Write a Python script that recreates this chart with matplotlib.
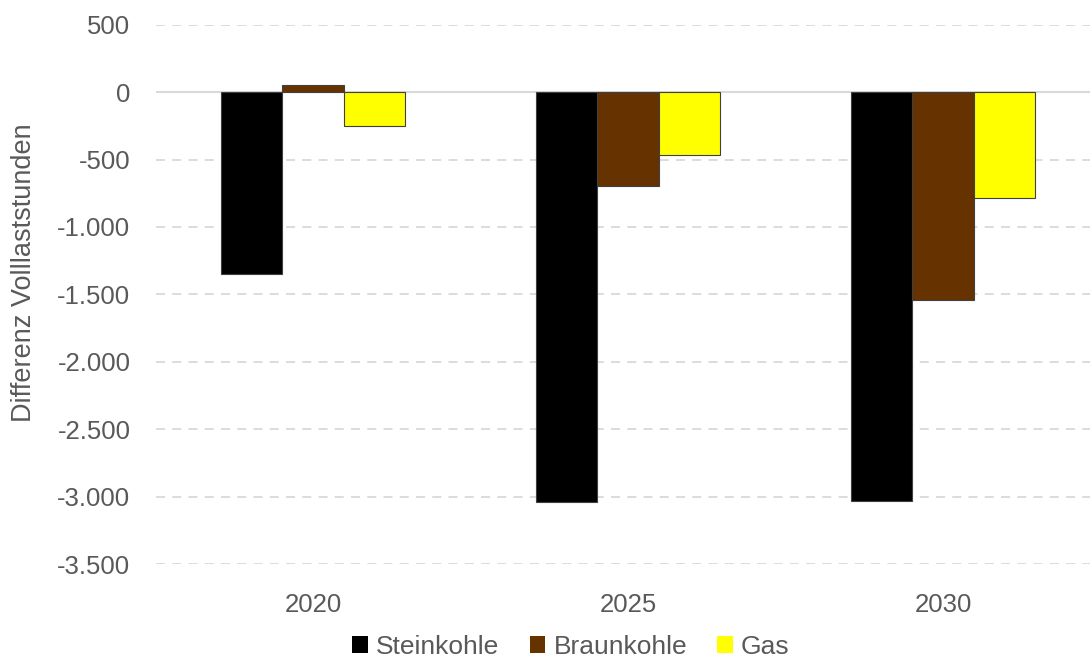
import matplotlib.pyplot as plt
import numpy as np
from matplotlib.ticker import FuncFormatter, MultipleLocator

plt.rcParams['font.family'] = ['Liberation Sans', 'DejaVu Sans']

jahre = ['2020', '2025', '2030']
steinkohle = [-1350, -3040, -3030]
braunkohle = [55, -700, -1540]
gas = [-250, -470, -785]

serien = [('Steinkohle', steinkohle, '#000000'),
          ('Braunkohle', braunkohle, '#663300'),
          ('Gas', gas, '#ffff00')]

grau = '#595959'

fig = plt.figure(figsize=(10.9, 6.59), dpi=100)
ax = fig.add_axes([155.5 / 1090, 1 - 564 / 659, 945 / 1090, (564 - 24.7) / 659])

x = np.arange(len(jahre))
breite = 0.194
for i, (name, werte, farbe) in enumerate(serien):
    ax.bar(x + (i - 1) * breite, werte, breite, color=farbe, label=name,
           edgecolor='#404040', linewidth=0.8, zorder=3)

ax.set_xlim(-0.5, 2.5)
ax.set_ylim(-3500, 500)
ax.yaxis.set_major_locator(MultipleLocator(500))
ax.yaxis.set_major_formatter(FuncFormatter(lambda v, p: f'{int(v):,}'.replace(',', '.')))
ax.grid(axis='y', color='#d9d9d9', linestyle=(0, (5, 4)), linewidth=1.3, zorder=0)
ax.axhline(0, color='#d9d9d9', linewidth=1.5, zorder=2)

ax.set_xticks(x)
ax.set_xticklabels(jahre)
ax.tick_params(length=0, labelsize=18.5, colors=grau)
ax.tick_params(axis='x', pad=21)
ax.tick_params(axis='y', pad=18)
for s in ax.spines.values():
    s.set_visible(False)

ax.set_ylabel('Differenz Volllaststunden', fontsize=19.5, color=grau)
ax.yaxis.set_label_coords(-0.125, 0.54)

leg = fig.legend(loc='center', bbox_to_anchor=(571 / 1090, 1 - 647 / 659), ncol=3,
                 frameon=False, fontsize=19, handlelength=0.6, handleheight=0.6,
                 handletextpad=0.3, columnspacing=1.15)
for t in leg.get_texts():
    t.set_color(grau)
for h in leg.legend_handles:
    h.set_linewidth(0)

fig.savefig('out.png', dpi=100)
